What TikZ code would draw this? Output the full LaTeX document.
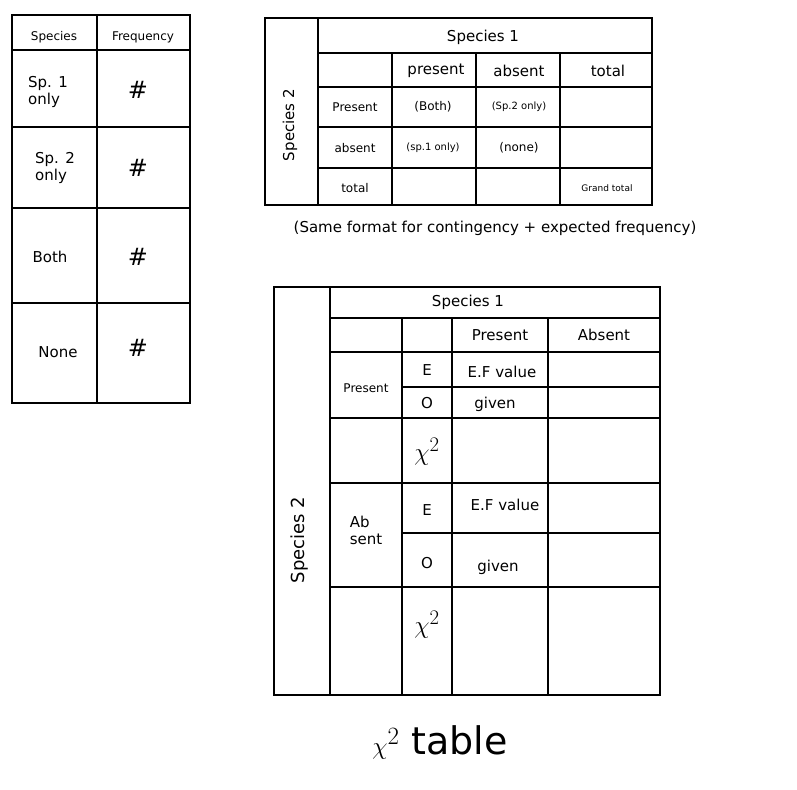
\documentclass[tikz,border=0pt]{standalone}
\usepackage{fontspec}
\setmainfont{DejaVu Sans}
\begin{document}
\begin{tikzpicture}[x=1pt,y=-1pt,line width=2.4pt,
 t/.style={font=\fontsize{15}{17}\selectfont,inner sep=1pt},
 s/.style={font=\fontsize{12}{14}\selectfont,inner sep=1pt}]
\useasboundingbox[fill=white] (0,0) rectangle (797,789);
% table 1
\draw (12,15) rectangle (190,403);
\draw (97,15) -- (97,403);
\foreach \y in {50,127,208,303} \draw (12,\y) -- (190,\y);
\node[s] (a1) at (54,37) {Species};
\node[s] (a2) at (143,37) {Frequency};
\node[t,align=left] (a3) at (48,92) {Sp. 1\\only};
\node[t,align=left] (a4) at (55,168) {Sp. 2\\only};
\node[t] (a5) at (50,257) {Both};
\node[t] (a6) at (58,352) {None};
\foreach \y/\n in {90/h1,168/h2,257/h3,348/h4} \node[font=\fontsize{24}{26}\selectfont] (\n) at (138,\y) {\#};
% table 2
\draw (265,18) rectangle (652,205);
\draw (318,18) -- (318,205);
\draw (318,53) -- (652,53);
\foreach \y in {87,127,168} \draw (318,\y) -- (652,\y);
\foreach \x in {392,476,560} \draw (\x,53) -- (\x,205);
\node[t] (b1) at (483,37) {Species 1};
\node[t,rotate=90] (b2) at (290,125) {Species 2};
\node[t] (b3) at (436,71) {present};
\node[t] (b4) at (519,71) {absent};
\node[t] (b5) at (608,71) {total};
\node[s] (b6) at (355,107) {Present};
\node[s] (b7) at (433,107) {(Both)};
\node[font=\fontsize{10}{12}\selectfont] (b8) at (519,107) {(Sp.2 only)};
\node[s] (b9) at (355,148) {absent};
\node[font=\fontsize{10}{12}\selectfont] (b10) at (433,148) {(sp.1 only)};
\node[s] (b11) at (519,148) {(none)};
\node[s] (b12) at (355,188) {total};
\node[font=\fontsize{9}{11}\selectfont] (b13) at (607,188) {Grand total};
\node[t] (c0) at (495,228) {(Same format for contingency + expected frequency)};
% table 3
\draw (274,287) rectangle (660,695);
\draw (330,287) -- (330,695);
\draw (330,318) -- (660,318);
\foreach \x in {402,452,548} \draw (\x,318) -- (\x,695);
\foreach \y in {352,418,483,587} \draw (330,\y) -- (660,\y);
\foreach \y in {387,533} \draw (402,\y) -- (660,\y);
\node[t] (d1) at (468,302) {Species 1};
\node[font=\fontsize{18}{20}\selectfont,rotate=90] (d2) at (300,540) {Species 2};
\node[t] (d3) at (500,335) {Present};
\node[t] (d4) at (604,335) {Absent};
\node[s] (d5) at (366,388) {Present};
\node[t,align=left] (d6) at (366,530) {Ab\\sent};
\node[t] (e1) at (427,370) {E};
\node[t] (e2) at (427,403) {O};
\node[font=\fontsize{28}{30}\selectfont] (e3) at (427,452) {$\chi^2$};
\node[t] (e4) at (427,510) {E};
\node[t] (e5) at (427,563) {O};
\node[font=\fontsize{28}{30}\selectfont] (e6) at (427,625) {$\chi^2$};
\node[t] (f1) at (502,372) {E.F value};
\node[t] (f2) at (495,404) {given};
\node[t] (f3) at (505,505) {E.F value};
\node[t] (f4) at (498,567) {given};
\node[font=\fontsize{38}{40}\selectfont] (g) at (440,742) {$\chi^2$ table};
\end{tikzpicture}
\end{document}
